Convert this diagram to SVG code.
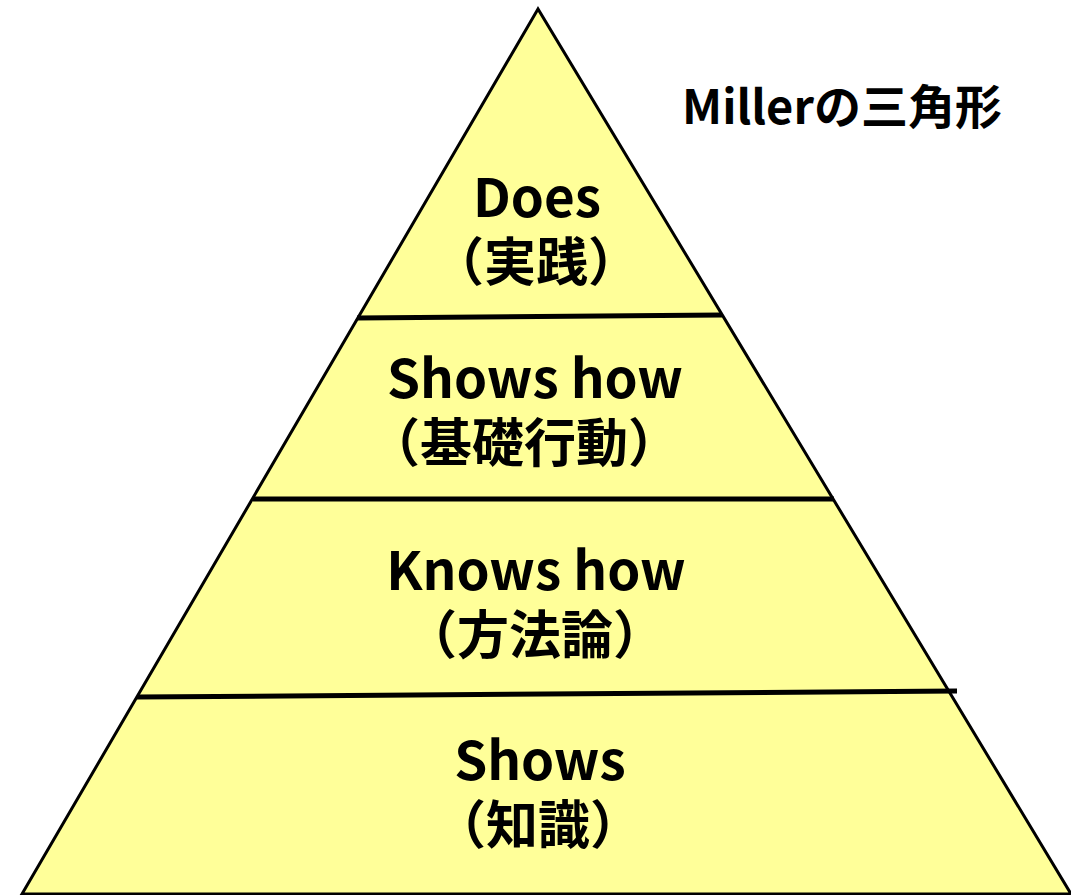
<svg xmlns="http://www.w3.org/2000/svg" width="1071" height="895" viewBox="0 0 1071 895">
<style>
.t{font-family:"Noto Sans CJK JP","Liberation Sans",sans-serif;font-weight:bold;fill:#000;text-anchor:middle;font-size:52px}
.l{font-size:53px}
.sep{stroke:#000;stroke-width:5;fill:none}
</style>
<rect width="1071" height="895" fill="#fff"/>
<g id="pyramid">
<polygon points="538,9 22,894 1071,894" fill="#FFFF99" stroke="#000" stroke-width="3" stroke-linejoin="miter"/>
</g>
<g id="connectors">
<line class="sep" x1="357" y1="318" x2="722" y2="315"/>
<line class="sep" x1="253" y1="499" x2="834" y2="499"/>
<line class="sep" x1="137" y1="697" x2="957" y2="691"/>
</g>
<g id="title"><text class="t" x="842" y="124" style="font-size:47px">Millerの三角形</text></g>
<g id="does"><text class="t l" x="537" y="217">Does</text><text class="t" x="536" y="281">（実践）</text></g>
<g id="showshow"><text class="t l" x="535" y="398">Shows how</text><text class="t" x="524" y="462">（基礎行動）</text></g>
<g id="knowshow"><text class="t l" x="536" y="590">Knows how</text><text class="t" x="535" y="654">（方法論）</text></g>
<g id="shows"><text class="t l" x="540" y="780">Shows</text><text class="t" x="538" y="844">（知識）</text></g>
</svg>
